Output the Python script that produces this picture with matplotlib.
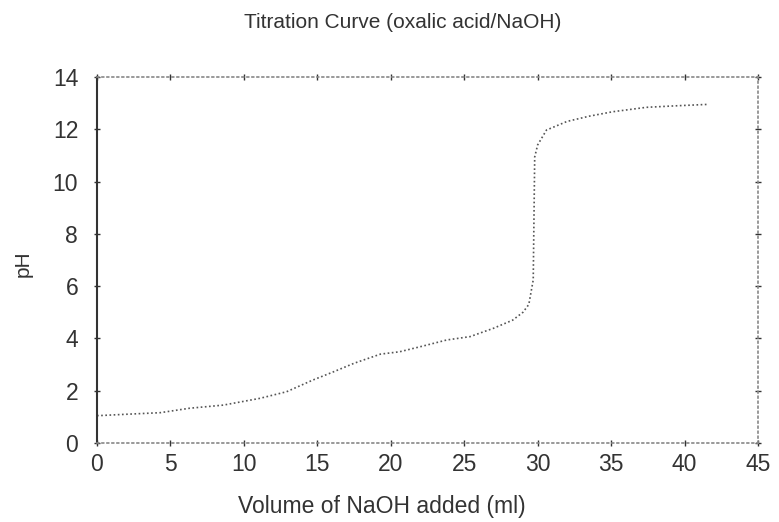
import matplotlib
matplotlib.use("Agg")
import matplotlib.pyplot as plt

volume = [0.0, 0.2, 2.0, 4.3, 6.3, 8.6, 11.1, 12.9, 14.7, 16.0, 17.5, 19.3, 20.6,
          22.2, 23.8, 25.4, 27.0, 28.3, 29.0, 29.4, 29.7, 29.8, 30.0, 30.6, 32.0,
          33.5, 35.1, 37.4, 39.5, 41.5]
ph = [1.05, 1.05, 1.1, 1.16, 1.33, 1.45, 1.71, 1.96, 2.41, 2.7, 3.05, 3.4, 3.49,
      3.71, 3.94, 4.07, 4.39, 4.7, 5.0, 5.3, 6.24, 10.94, 11.4, 11.97, 12.3,
      12.5, 12.67, 12.84, 12.9, 12.95]
xticks = [0, 5, 10, 15, 20, 25, 30, 35, 40, 45]
yticks = [0, 2, 4, 6, 8, 10, 12, 14]

plt.rcParams['font.family'] = ['Liberation Sans', 'DejaVu Sans']
fig = plt.figure(figsize=(7.79, 5.22), dpi=100)
ax = fig.add_axes([0.1245, 0.1513, 0.8485, 0.7012])

ax.plot(volume, ph, color='#555555', linestyle=(0, (1, 1.5)), linewidth=1.2)
ax.set_xlim(0, 45)
ax.set_ylim(0, 14)
ax.set_xticks(xticks)
ax.set_yticks(yticks)
ax.tick_params(axis='both', direction='inout', length=5, width=1, colors='#333333',
               labelsize=16.5, top=True, right=True)
ax.tick_params(axis='y', pad=11)
ax.tick_params(axis='x', pad=5)

for s in ['top', 'right', 'bottom']:
    ax.spines[s].set_linestyle((0, (1, 2)))
    ax.spines[s].set_color('#888888')
    ax.spines[s].set_linewidth(1.2)
ax.spines['left'].set_color('#333333')
ax.spines['left'].set_linewidth(1.5)

fig.text(0.517, 0.956, 'Titration Curve (oxalic acid/NaOH)', ha='center', va='center',
         fontsize=15, color='#333333')
fig.text(0.490, 0.029, 'Volume of NaOH added (ml)', ha='center', va='center',
         fontsize=16.5, color='#333333')
fig.text(0.030, 0.494, 'pH', ha='center', va='center', rotation=90,
         fontsize=15, color='#333333')

fig.savefig('out.png', dpi=100)
